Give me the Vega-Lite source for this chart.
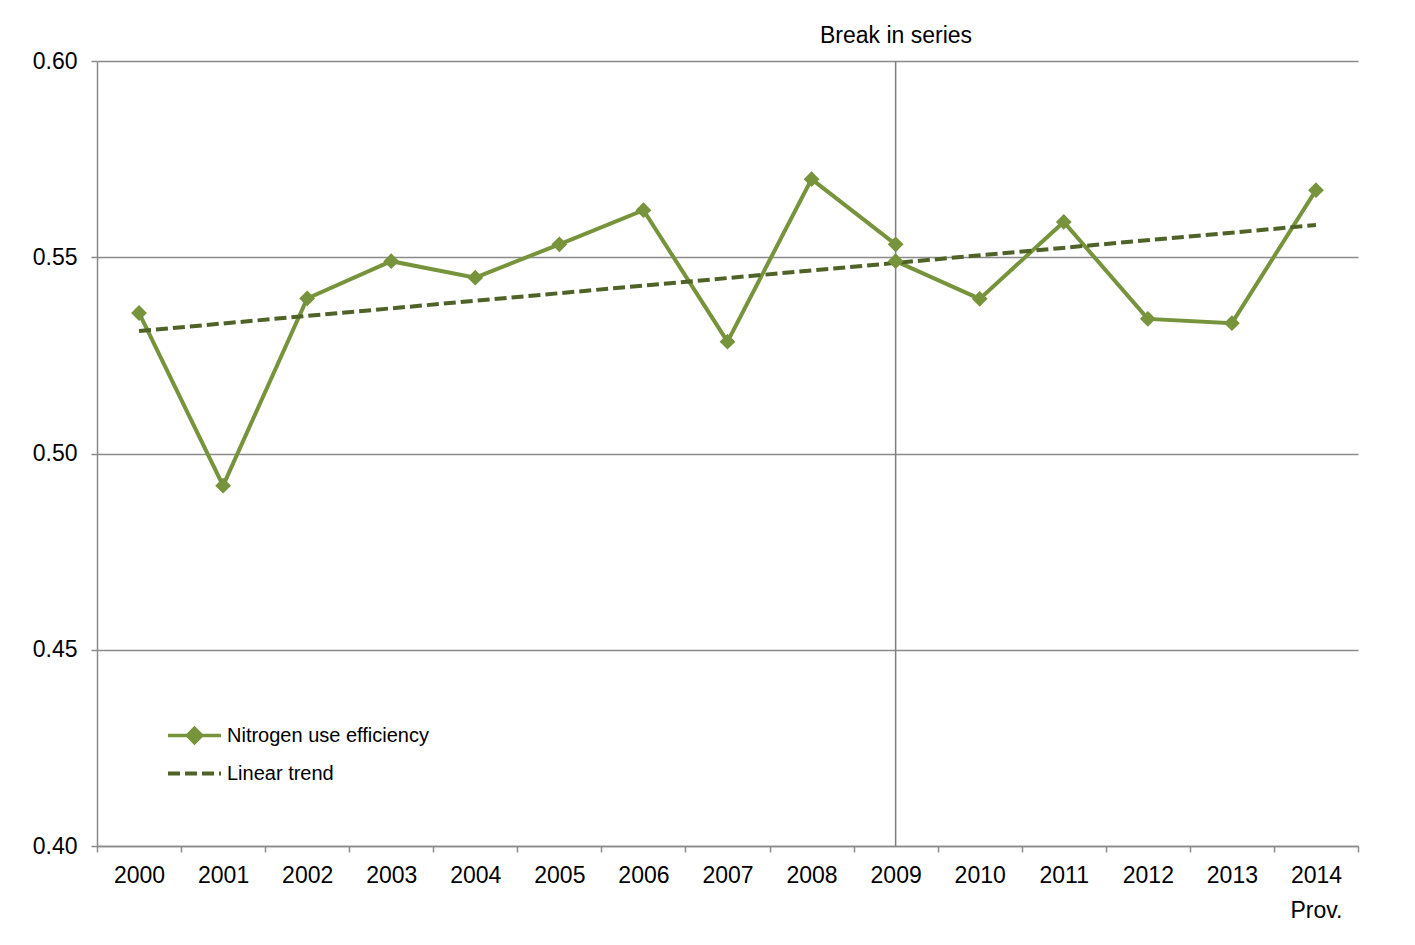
{
  "$schema": "https://vega.github.io/schema/vega-lite/v6.json",
  "width": 1261,
  "height": 785,
  "autosize": {"type": "none"},
  "padding": {"left": 97, "top": 61, "right": 57, "bottom": 99},
  "background": "white",
  "title": {
    "text": "Break in series",
    "frame": "group",
    "anchor": "middle",
    "dx": 168.5,
    "offset": 2,
    "fontSize": 23,
    "fontWeight": "normal",
    "font": "Liberation Sans",
    "color": "#000000"
  },
  "config": {
    "view": {"stroke": null},
    "font": "Liberation Sans",
    "axis": {
      "title": null,
      "labelFont": "Liberation Sans",
      "labelFontSize": 23,
      "labelColor": "#000000",
      "domainColor": "#8A8A8A",
      "domainWidth": 1.5,
      "tickColor": "#8A8A8A",
      "tickWidth": 1.5,
      "tickSize": 6
    }
  },
  "datasets": {
    "nue": [
      {"year": "2000", "value": 0.5358, "segment": "before", "series": "Nitrogen use efficiency"},
      {"year": "2001", "value": 0.4918, "segment": "before", "series": "Nitrogen use efficiency"},
      {"year": "2002", "value": 0.5395, "segment": "before", "series": "Nitrogen use efficiency"},
      {"year": "2003", "value": 0.549, "segment": "before", "series": "Nitrogen use efficiency"},
      {"year": "2004", "value": 0.5448, "segment": "before", "series": "Nitrogen use efficiency"},
      {"year": "2005", "value": 0.5533, "segment": "before", "series": "Nitrogen use efficiency"},
      {"year": "2006", "value": 0.562, "segment": "before", "series": "Nitrogen use efficiency"},
      {"year": "2007", "value": 0.5285, "segment": "before", "series": "Nitrogen use efficiency"},
      {"year": "2008", "value": 0.5699, "segment": "before", "series": "Nitrogen use efficiency"},
      {"year": "2009", "value": 0.5533, "segment": "before", "series": "Nitrogen use efficiency"},
      {"year": "2009", "value": 0.549, "segment": "after", "series": "Nitrogen use efficiency"},
      {"year": "2010", "value": 0.5394, "segment": "after", "series": "Nitrogen use efficiency"},
      {"year": "2011", "value": 0.559, "segment": "after", "series": "Nitrogen use efficiency"},
      {"year": "2012", "value": 0.5343, "segment": "after", "series": "Nitrogen use efficiency"},
      {"year": "2013", "value": 0.5332, "segment": "after", "series": "Nitrogen use efficiency"},
      {"year": "2014", "value": 0.5671, "segment": "after", "series": "Nitrogen use efficiency"}
    ],
    "trend": [
      {"year": "2000", "value": 0.5312, "series": "Linear trend"},
      {"year": "2014", "value": 0.5582, "series": "Linear trend"}
    ],
    "break": [
      {"year": "2009"}
    ]
  },
  "encoding": {
    "x": {
      "field": "year",
      "type": "ordinal",
      "scale": {
        "type": "band",
        "domain": ["2000", "2001", "2002", "2003", "2004", "2005", "2006", "2007", "2008", "2009", "2010", "2011", "2012", "2013", "2014"],
        "paddingInner": 0,
        "paddingOuter": 0
      },
      "axis": {
        "tickBand": "extent",
        "labelAngle": 0,
        "labelPadding": 12,
        "labelLineHeight": 35,
        "grid": false,
        "labelExpr": "datum.value == '2014' ? ['2014', '\u00a0\u00a0Prov.'] : datum.label"
      }
    }
  },
  "layer": [
    {
      "data": {"name": "break"},
      "mark": {"type": "rule", "color": "#7F7F7F", "strokeWidth": 1.5},
      "encoding": {}
    },
    {
      "data": {"name": "nue"},
      "mark": {"type": "line", "strokeWidth": 4},
      "encoding": {
        "y": {
          "field": "value",
          "type": "quantitative",
          "scale": {"domain": [0.4, 0.6], "nice": false, "zero": false},
          "axis": {
            "values": [0.4, 0.45, 0.5, 0.55, 0.6],
            "format": ".2f",
            "labelPadding": 14,
            "grid": true,
            "gridColor": "#8A8A8A",
            "gridWidth": 1.5
          }
        },
        "detail": {"field": "segment"},
        "color": {
          "field": "series",
          "type": "nominal",
          "scale": {"domain": ["Nitrogen use efficiency"], "range": ["#77933C"]},
          "legend": {
            "orient": "none",
            "legendX": 69,
            "legendY": 646,
            "title": null,
            "symbolType": "M-1,0H1M0,-0.27L0.27,0L0,0.27L-0.27,0Z",
            "symbolSize": 2809,
            "symbolStrokeWidth": 3.5,
            "labelFont": "Liberation Sans",
            "labelFontSize": 20,
            "labelColor": "#000000",
            "labelOffset": 4,
            "labelLimit": 500,
            "encode": {"symbols": {"update": {"fill": {"value": "#77933C"}, "stroke": {"value": "#77933C"}}}}
          }
        }
      }
    },
    {
      "data": {"name": "trend"},
      "mark": {"type": "line", "color": "#4F6228", "strokeWidth": 4},
      "encoding": {
        "y": {"field": "value", "type": "quantitative"},
        "strokeDash": {
          "field": "series",
          "type": "nominal",
          "scale": {"domain": ["Linear trend"], "range": [[12, 5]]},
          "legend": {
            "orient": "none",
            "legendX": 69,
            "legendY": 684,
            "title": null,
            "symbolType": "M-1,0H1",
            "symbolSize": 2809,
            "symbolStrokeWidth": 4,
            "symbolStrokeColor": "#4F6228",
            "labelFont": "Liberation Sans",
            "labelFontSize": 20,
            "labelColor": "#000000",
            "labelOffset": 4,
            "labelLimit": 500,
            "encode": {"symbols": {"update": {"stroke": {"value": "#4F6228"}}}}
          }
        }
      }
    },
    {
      "data": {"name": "nue"},
      "mark": {"type": "point", "shape": "diamond", "filled": true, "size": 250, "color": "#77933C", "opacity": 1},
      "encoding": {
        "y": {"field": "value", "type": "quantitative"}
      }
    }
  ]
}
